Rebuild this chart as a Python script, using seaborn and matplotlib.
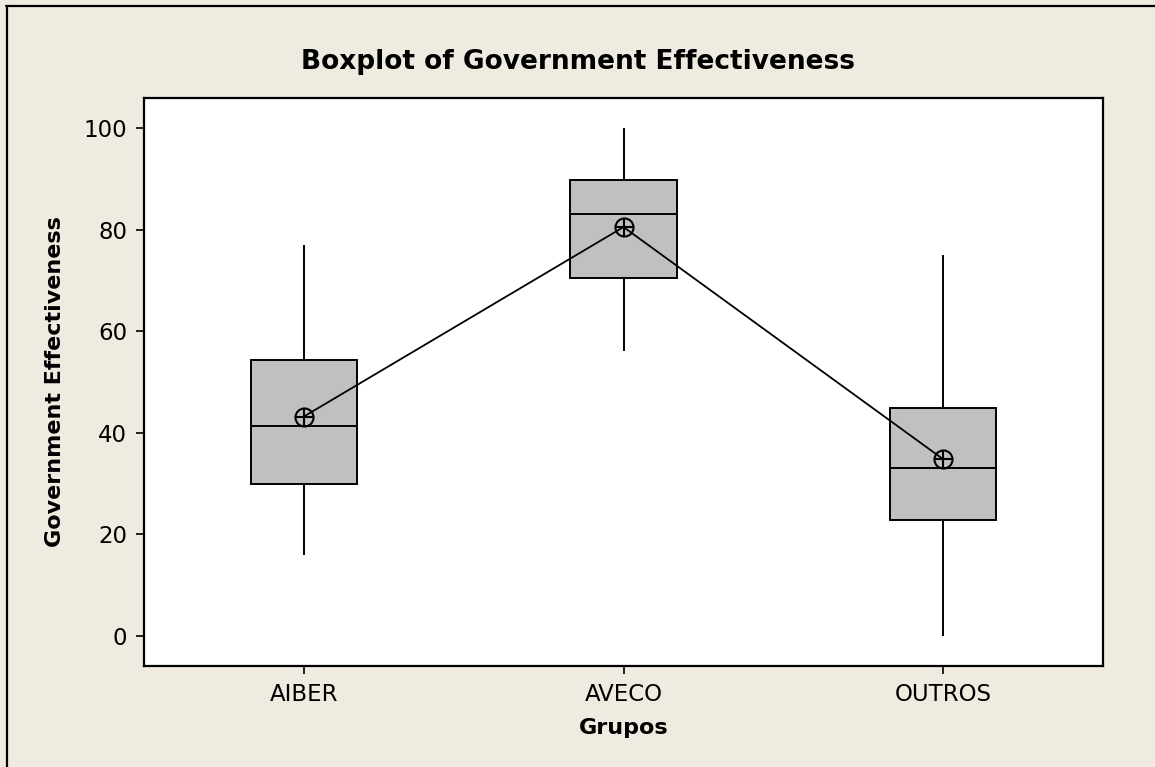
import pandas as pd
import numpy as np
import seaborn as sns
import matplotlib.pyplot as plt
from matplotlib.lines import Line2D

# summary values (min, Q1, median, Q3, max) and means
grupos = ['AIBER', 'AVECO', 'OUTROS']
minimos = [16.0, 56.1, 0.0]
q1 = [29.9, 70.4, 22.8]
medianas = [41.3, 83.0, 33.0]
q3 = [54.3, 89.7, 44.9]
maximos = [77.0, 100.0, 75.0]
medias = [43.2, 80.5, 34.8]

# five values per group give exactly these quartiles
linhas = []
for i, g in enumerate(grupos):
    for v in [minimos[i], q1[i], medianas[i], q3[i], maximos[i]]:
        linhas.append({'Grupos': g, 'Government Effectiveness': v})
df = pd.DataFrame(linhas)

sns.set_style('ticks')
plt.rcParams['font.family'] = ['DejaVu Sans']
plt.rcParams['text.color'] = 'black'
plt.rcParams['axes.labelcolor'] = 'black'

fig = plt.figure(figsize=(11.55, 7.67), dpi=100, facecolor='#EFEBE1')
ax = fig.add_axes([144 / 1155, 1 - 666 / 767, 959 / 1155, 568 / 767])
ax.set_facecolor('white')

sns.boxplot(data=df, x='Grupos', y='Government Effectiveness', order=grupos,
            color='#C0C0C0', saturation=1, width=0.333, whis=(0, 100),
            showcaps=False, linecolor='black', linewidth=1.4, ax=ax)

sns.pointplot(x=grupos, y=medias, color='black', errorbar=None,
              marker='o', markersize=13, markerfacecolor='none',
              markeredgewidth=1.5, linewidth=1.3, ax=ax)
sns.pointplot(x=grupos, y=medias, color='black', errorbar=None,
              marker='+', markersize=13, markeredgewidth=1.5,
              linestyle='none', ax=ax)

ax.set_xlim(-0.5, 2.5)
ax.set_ylim(-5.9, 105.9)
ax.set_yticks([0, 20, 40, 60, 80, 100])

for s in ax.spines.values():
    s.set_visible(True)
    s.set_color('black')
    s.set_linewidth(1.6)
ax.tick_params(direction='out', length=6, width=1.2, colors='black',
               labelsize=16.5, pad=6)

ax.set_xlabel('Grupos', fontsize=16, fontweight='bold')
ax.set_ylabel('Government Effectiveness', fontsize=16, fontweight='bold')
ax.xaxis.set_label_coords(0.5, (666 - 728) / 568)
ax.xaxis.label.set_va('center')
ax.yaxis.set_label_coords((55 - 144) / 959, 0.5)
ax.yaxis.label.set_va('center')

fig.text(578 / 1155, 1 - 62 / 767, 'Boxplot of Government Effectiveness',
         ha='center', va='center', fontsize=19, fontweight='bold',
         color='black')

# window border (top and left)
fig.add_artist(Line2D([6 / 1155, 1], [1 - 6 / 767, 1 - 6 / 767],
                      transform=fig.transFigure, color='black', lw=1.6))
fig.add_artist(Line2D([7 / 1155, 7 / 1155], [0, 1 - 6 / 767],
                      transform=fig.transFigure, color='black', lw=1.6))

fig.savefig('out.png', dpi=100, facecolor=fig.get_facecolor())
